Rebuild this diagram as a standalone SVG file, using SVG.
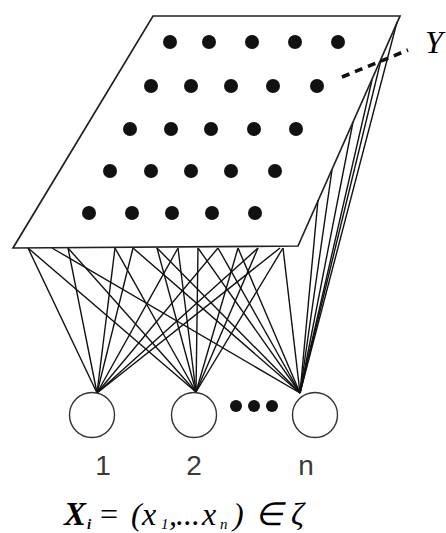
<svg xmlns="http://www.w3.org/2000/svg" width="446" height="533" viewBox="0 0 446 533">
<style>
.edge{stroke:#111;stroke-width:1.4;fill:none}
.plane{stroke:#222;stroke-width:1.7;fill:none}
.dot{fill:#111}
.node{stroke:#333;stroke-width:1.4;fill:#fff}
.lbl{font-family:"Liberation Sans",Arial,sans-serif;font-size:28px;fill:#3a3a3a}
.math{font-family:"Liberation Serif","Times New Roman",serif;font-style:italic;fill:#000}
</style>
<rect width="446" height="533" fill="#fff"/>
<g id="connectors">
<g id="to-node1">
<line class="edge" x1="28" y1="248" x2="97" y2="393"/>
<line class="edge" x1="68" y1="248" x2="97" y2="393"/>
<line class="edge" x1="115" y1="248" x2="97" y2="393"/>
<line class="edge" x1="133" y1="248" x2="97" y2="393"/>
<line class="edge" x1="178" y1="248" x2="97" y2="393"/>
<line class="edge" x1="218" y1="248" x2="97" y2="393"/>
<line class="edge" x1="258" y1="248" x2="97" y2="393"/>
<line class="edge" x1="280" y1="248" x2="97" y2="393"/>
</g>
<g id="to-node2">
<line class="edge" x1="28" y1="248" x2="196" y2="392"/>
<line class="edge" x1="68" y1="248" x2="196" y2="392"/>
<line class="edge" x1="115" y1="248" x2="196" y2="392"/>
<line class="edge" x1="157" y1="248" x2="196" y2="392"/>
<line class="edge" x1="178" y1="248" x2="196" y2="392"/>
<line class="edge" x1="198" y1="248" x2="196" y2="392"/>
<line class="edge" x1="238" y1="248" x2="196" y2="392"/>
<line class="edge" x1="258" y1="248" x2="196" y2="392"/>
<line class="edge" x1="283" y1="248" x2="196" y2="392"/>
</g>
<g id="to-noden">
<line class="edge" x1="52" y1="248" x2="300" y2="393"/>
<line class="edge" x1="133" y1="248" x2="300" y2="393"/>
<line class="edge" x1="157" y1="248" x2="300" y2="393"/>
<line class="edge" x1="198" y1="248" x2="300" y2="393"/>
<line class="edge" x1="218" y1="248" x2="300" y2="393"/>
<line class="edge" x1="238" y1="248" x2="300" y2="393"/>
<line class="edge" x1="283" y1="248" x2="300" y2="393"/>
<line class="edge" x1="318" y1="200" x2="300" y2="393"/>
<line class="edge" x1="332" y1="170" x2="300" y2="393"/>
<line class="edge" x1="353" y1="122" x2="300" y2="393"/>
<line class="edge" x1="372" y1="80" x2="300" y2="393"/>
<line class="edge" x1="381" y1="60" x2="300" y2="393"/>
<line class="edge" x1="397" y1="22" x2="300" y2="393"/>
</g>
</g>
<g id="output-plane">
<polygon class="plane" points="153,16 400,16 298,246 13,248"/>
<g id="neurons">
<circle class="dot" cx="170" cy="42" r="7"/>
<circle class="dot" cx="209" cy="42" r="7"/>
<circle class="dot" cx="252" cy="42" r="7"/>
<circle class="dot" cx="295" cy="42" r="7"/>
<circle class="dot" cx="338" cy="42" r="7"/>
<circle class="dot" cx="151" cy="86" r="7"/>
<circle class="dot" cx="191" cy="86" r="7"/>
<circle class="dot" cx="231" cy="86" r="7"/>
<circle class="dot" cx="273" cy="86" r="7"/>
<circle class="dot" cx="317" cy="86" r="7"/>
<circle class="dot" cx="130" cy="129" r="7"/>
<circle class="dot" cx="171" cy="129" r="7"/>
<circle class="dot" cx="211" cy="129" r="7"/>
<circle class="dot" cx="254" cy="129" r="7"/>
<circle class="dot" cx="296" cy="129" r="7"/>
<circle class="dot" cx="110" cy="171" r="7"/>
<circle class="dot" cx="151" cy="171" r="7"/>
<circle class="dot" cx="191" cy="171" r="7"/>
<circle class="dot" cx="231" cy="171" r="7"/>
<circle class="dot" cx="275" cy="171" r="7"/>
<circle class="dot" cx="89" cy="213" r="7"/>
<circle class="dot" cx="132" cy="213" r="7"/>
<circle class="dot" cx="172" cy="213" r="7"/>
<circle class="dot" cx="212" cy="213" r="7"/>
<circle class="dot" cx="255" cy="213" r="7"/>
</g>
</g>
<g id="y-label">
<line x1="342" y1="77" x2="408" y2="50" stroke="#111" stroke-width="3.6" stroke-dasharray="8,6"/>
<text class="math" x="425" y="53" font-size="32">Y</text>
</g>
<g id="node1">
<circle class="node" cx="92" cy="415" r="22.5"/>
<text class="lbl" x="103" y="475" text-anchor="middle">1</text>
</g>
<g id="node2">
<circle class="node" cx="194" cy="415" r="22.5"/>
<text class="lbl" x="194" y="475" text-anchor="middle">2</text>
</g>
<g id="ellipsis">
<circle class="dot" cx="236" cy="406" r="6"/>
<circle class="dot" cx="254" cy="406" r="6"/>
<circle class="dot" cx="272" cy="406" r="6"/>
</g>
<g id="noden">
<circle class="node" cx="315" cy="415" r="22.5"/>
<text class="lbl" x="306" y="475" text-anchor="middle">n</text>
</g>
<g id="formula">
<text class="math" x="64" y="525" font-size="33" font-weight="bold">X</text>
<text class="math" x="87" y="529" font-size="15" font-weight="bold">i</text>
<text class="math" x="98" y="525" font-size="32" font-style="normal">=</text>
<text class="math" x="131" y="525" font-size="32" font-style="normal">(</text>
<text class="math" x="142" y="525" font-size="32">x</text>
<text class="math" x="161" y="529" font-size="15" font-style="normal">1</text>
<text class="math" x="169" y="525" font-size="32" font-style="normal">,</text>
<text class="math" x="176" y="525" font-size="32" font-style="normal">...</text>
<text class="math" x="202" y="525" font-size="32">x</text>
<text class="math" x="220" y="529" font-size="15">n</text>
<text class="math" x="233" y="525" font-size="32" font-style="normal">)</text>
<text class="math" x="255" y="525" font-size="32" font-style="normal">∈</text>
<text class="math" x="291" y="525" font-size="32">ζ</text>
</g>
</svg>
